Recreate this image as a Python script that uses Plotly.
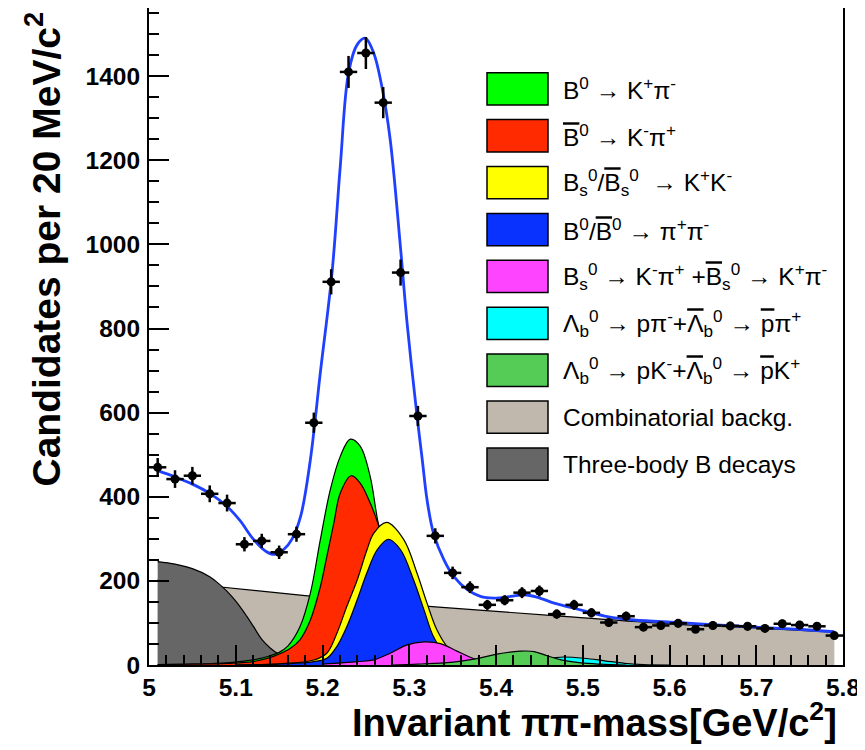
import plotly.graph_objects as go

# ---------------- data ----------------
mass = [5.01, 5.03, 5.05, 5.07, 5.09, 5.11, 5.13, 5.15, 5.17, 5.19,
        5.21, 5.23, 5.25, 5.27, 5.29, 5.31, 5.33, 5.35, 5.37, 5.39,
        5.41, 5.43, 5.45, 5.47, 5.49, 5.51, 5.53, 5.55, 5.57, 5.59,
        5.61, 5.63, 5.65, 5.67, 5.69, 5.71, 5.73, 5.75, 5.77, 5.79]
counts = [470, 442, 450, 407, 385, 287, 295, 268, 311, 576,
          911, 1410, 1455, 1337, 933, 592, 307, 219, 185, 143,
          154, 172, 176, 121, 143, 124, 101, 116, 90, 94,
          99, 85, 94, 93, 92, 87, 98, 95, 92, 70]
count_err = [22, 21, 21, 20, 20, 17, 17, 16, 18, 24,
             30, 38, 38, 37, 31, 24, 18, 15, 14, 12,
             12, 13, 13, 11, 12, 11, 10, 11, 9.5, 10,
             10, 9, 10, 10, 10, 9, 10, 10, 10, 8]
bin_half = [0.01] * 40

# total fit (blue line)
fit_x = [5.01, 5.03, 5.05, 5.07, 5.09, 5.105, 5.12, 5.135, 5.145, 5.155,
         5.165, 5.175, 5.186, 5.1975, 5.211, 5.2205, 5.23, 5.24, 5.2495, 5.259,
         5.269, 5.278, 5.29, 5.2975, 5.309, 5.315, 5.3205, 5.328, 5.34, 5.3515,
         5.367, 5.382, 5.3975, 5.417, 5.432, 5.448, 5.467, 5.486, 5.505, 5.5285,
         5.559, 5.609, 5.659, 5.709, 5.748, 5.79]
fit_y = [462, 447, 430, 408, 377, 343, 300, 270, 263, 274,
         300, 355, 488, 695, 933, 1186, 1408, 1475, 1490, 1455,
         1369, 1250, 990, 813, 591, 488, 393, 313, 250, 210,
         179, 163, 159, 163, 167, 161, 147, 137, 127, 115,
         107, 101, 95, 89, 85, 79]

# combinatorial background
comb_x = [5.01, 5.08, 5.18, 5.33, 5.47, 5.60, 5.70, 5.79]
comb_y = [203, 186, 165, 138, 117, 98, 88, 78]

# three-body B decays
three_x = [5.01, 5.03, 5.05, 5.07, 5.08, 5.09, 5.10, 5.11, 5.12, 5.13,
           5.14, 5.15, 5.16, 5.18, 5.20, 5.23]
three_y = [246, 240, 229, 210, 194, 175, 152, 124, 93, 61,
           40, 25, 15, 5, 1.5, 0]

# B0 -> K+ pi-
b0kpi_x = [5.01, 5.05, 5.09, 5.12, 5.14, 5.15, 5.16, 5.174, 5.186, 5.1975,
           5.209, 5.2205, 5.232, 5.2436, 5.255, 5.2635, 5.275, 5.285, 5.295, 5.305,
           5.32, 5.34, 5.37]
b0kpi_y = [1, 2, 5, 12, 22, 30, 45, 91, 171, 298,
           417, 496, 537, 520, 448, 345, 240, 160, 100, 55,
           22, 6, 0]

# B0bar -> K- pi+
b0bkpi_x = [5.01, 5.05, 5.09, 5.12, 5.14, 5.15, 5.163, 5.174, 5.186, 5.1975,
            5.205, 5.213, 5.2205, 5.233, 5.2436, 5.255, 5.265, 5.275, 5.285, 5.295,
            5.305, 5.315, 5.33, 5.35, 5.38]
b0bkpi_y = [1, 2, 4, 8, 18, 26, 40, 60, 107, 186,
            258, 337, 409, 450, 432, 385, 330, 260, 185, 120,
            70, 38, 12, 3, 0]

# Bs/Bsbar -> K+ K-
bskk_x = [5.10, 5.15, 5.19, 5.205, 5.2165, 5.228, 5.24, 5.2513, 5.259, 5.274,
          5.2937, 5.309, 5.3205, 5.332, 5.345, 5.36, 5.38, 5.40]
bskk_y = [0, 3, 12, 28, 75, 139, 202, 274, 313, 339,
          298, 218, 147, 83, 40, 15, 3, 0]

# B0/B0bar -> pi+ pi-
bpipi_x = [5.10, 5.15, 5.19, 5.205, 5.2165, 5.228, 5.24, 5.251, 5.263, 5.276,
           5.29, 5.305, 5.317, 5.328, 5.34, 5.355, 5.37, 5.39]
bpipi_y = [0, 2, 8, 16, 44, 91, 155, 218, 274, 299,
           274, 202, 131, 67, 30, 10, 2, 0]

# Bs -> K- pi+ + Bsbar -> K+ pi-
bskpi_x = [5.20, 5.24, 5.259, 5.278, 5.2975, 5.317, 5.336, 5.355, 5.3745, 5.39, 5.41, 5.43]
bskpi_y = [2, 8, 12, 28, 48, 55, 51, 33, 15, 6, 1, 0]

# Lambda_b -> p pi
lbppi_x = [5.38, 5.42, 5.45, 5.467, 5.478, 5.5015, 5.525, 5.548, 5.57, 5.60]
lbppi_y = [0, 5, 12, 17, 19, 16, 10, 4, 1, 0]

# Lambda_b -> p K
lbpk_x = [5.28, 5.31, 5.34, 5.36, 5.378, 5.401, 5.428, 5.444, 5.459, 5.475, 5.498, 5.52, 5.55]
lbpk_y = [0, 2, 5, 9, 15, 26, 33, 32, 22, 12, 5, 2, 0]

OV = "<span style='text-decoration:overline'>{}</span>"
legend_labels = [
    "B<sup>0</sup> → K<sup>+</sup>π<sup>-</sup>",
    OV.format("B") + "<sup>0</sup> → K<sup>-</sup>π<sup>+</sup>",
    "B<sub>s</sub><sup>0</sup>/" + OV.format("B") + "<sub>s</sub><sup>0</sup>  → K<sup>+</sup>K<sup>-</sup>",
    "B<sup>0</sup>/" + OV.format("B") + "<sup>0</sup> → π<sup>+</sup>π<sup>-</sup>",
    "B<sub>s</sub><sup>0</sup> → K<sup>-</sup>π<sup>+</sup> +" + OV.format("B") + "<sub>s</sub><sup>0</sup> → K<sup>+</sup>π<sup>-</sup>",
    "Λ<sub>b</sub><sup>0</sup> → pπ<sup>-</sup>+" + OV.format("Λ") + "<sub>b</sub><sup>0</sup> → " + OV.format("p") + "π<sup>+</sup>",
    "Λ<sub>b</sub><sup>0</sup> → pK<sup>-</sup>+" + OV.format("Λ") + "<sub>b</sub><sup>0</sup> → " + OV.format("p") + "K<sup>+</sup>",
    "Combinatorial backg.",
    "Three-body B decays",
]
legend_colors = ["#00ff00", "#ff2a00", "#ffff00", "#0a32ff", "#ff44ff",
                 "#00ffff", "#55cc55", "#c0b8ac", "#666666"]

# ---------------- figure ----------------
fig = go.Figure()

def filled(xs, ys, color):
    fig.add_trace(go.Scatter(
        x=xs, y=ys, mode="lines", fill="tozeroy", fillcolor=color,
        line=dict(color="black", width=1.2, shape="spline", smoothing=1.0),
        showlegend=False, hoverinfo="skip"))

# drawing order (back to front)
filled(comb_x, comb_y, legend_colors[7])
filled(three_x, three_y, legend_colors[8])
filled(b0kpi_x, b0kpi_y, legend_colors[0])
filled(b0bkpi_x, b0bkpi_y, legend_colors[1])
filled(bskk_x, bskk_y, legend_colors[2])
filled(bpipi_x, bpipi_y, legend_colors[3])
filled(bskpi_x, bskpi_y, legend_colors[4])
filled(lbppi_x, lbppi_y, legend_colors[5])
filled(lbpk_x, lbpk_y, legend_colors[6])

fig.add_trace(go.Scatter(
    x=fit_x, y=fit_y, mode="lines",
    line=dict(color="#2040ff", width=2.8, shape="spline", smoothing=1.0),
    showlegend=False, hoverinfo="skip"))

fig.add_trace(go.Scatter(
    x=mass, y=counts, mode="markers",
    marker=dict(color="black", size=9, symbol="circle"),
    error_x=dict(type="data", array=bin_half, color="black", thickness=2.5, width=0),
    error_y=dict(type="data", array=count_err, color="black", thickness=2.5, width=0),
    showlegend=False))

# page offset of the figure (browser body margin)
OFF = 8
W, H = 865 - OFF, 750 - OFF
# plot area in page pixels
L, R, T, B = 149, 843, 8, 665
def px_x(p):
    return (p - L) / (R - L)
def px_y(p):
    return (B - p) / (B - T)

shapes = []
annotations = []
box_l, box_r = 487, 548
for i, (lab, col) in enumerate(zip(legend_labels, legend_colors)):
    top = 72.7 + i * 46.9
    bot = top + 32.3
    shapes.append(dict(type="rect", xref="paper", yref="paper",
                       x0=px_x(box_l), x1=px_x(box_r), y0=px_y(bot), y1=px_y(top),
                       fillcolor=col, line=dict(color="black", width=1.5)))
    annotations.append(dict(xref="paper", yref="paper", x=px_x(561), y=px_y((top + bot) / 2),
                            xanchor="left", yanchor="middle", text=lab, showarrow=False,
                            font=dict(family="Liberation Sans", size=24.5, color="black")))

annotations.append(dict(xref="paper", yref="paper", x=px_x(43), y=px_y(10),
                        xanchor="center", yanchor="top", textangle=-90,
                        text="Candidates per 20 MeV/c<sup>2</sup>", showarrow=False,
                        font=dict(family="Liberation Sans", size=39, color="black", weight="bold")))
annotations.append(dict(xref="paper", yref="paper", x=px_x(839), y=px_y(720),
                        xanchor="right", yanchor="middle",
                        text="Invariant ππ-mass[GeV/c<sup>2</sup>]", showarrow=False,
                        font=dict(family="Liberation Sans", size=38, color="black", weight="bold")))

fig.update_layout(
    width=W, height=H,
    margin=dict(l=L - OFF, r=W - (R - OFF), t=T - OFF, b=H - (B - OFF), pad=0, autoexpand=False),
    paper_bgcolor="white", plot_bgcolor="white",
    shapes=shapes, annotations=annotations,
    showlegend=False,
    font=dict(family="Liberation Sans", color="black"),
)
fig.update_xaxes(
    range=[5.0, 5.8], tick0=5.0, dtick=0.1, ticks="inside", ticklen=20, tickwidth=1.5,
    tickcolor="black", showgrid=False, zeroline=False, showline=True, linecolor="black",
    linewidth=2, mirror=True, ticklabelstandoff=0, automargin=False,
    tickfont=dict(family="Liberation Sans", size=24.5, color="black", weight="bold"),
    minor=dict(dtick=0.02, ticks="inside", ticklen=10, tickwidth=1.5, tickcolor="black", showgrid=False),
)
fig.update_yaxes(
    range=[0, 1562], tick0=0, dtick=200, ticks="inside", ticklen=20, tickwidth=1.5,
    tickcolor="black", showgrid=False, zeroline=False, showline=True, linecolor="black",
    linewidth=2, mirror=True, ticklabelstandoff=2, automargin=False,
    tickfont=dict(family="Liberation Sans", size=24.5, color="black", weight="bold"),
    minor=dict(dtick=50, ticks="inside", ticklen=10, tickwidth=1.5, tickcolor="black", showgrid=False),
)

fig.write_html("out.html")
